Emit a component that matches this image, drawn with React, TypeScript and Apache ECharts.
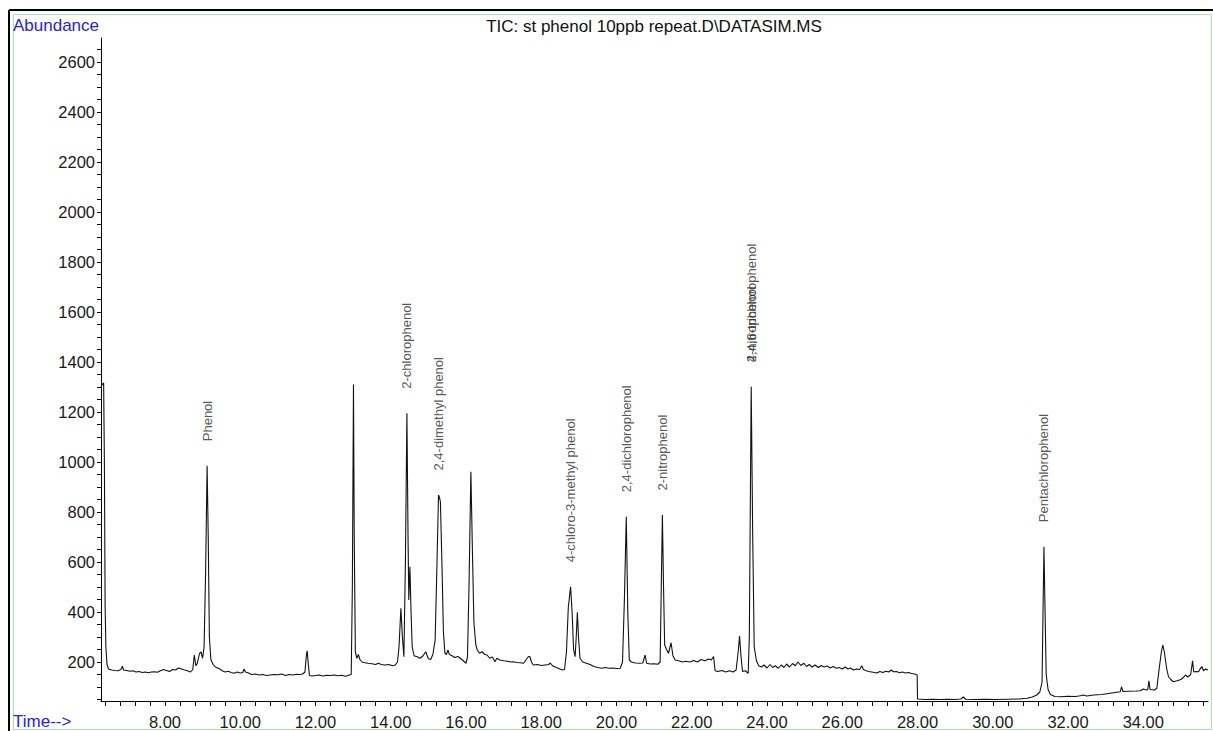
import React, { useEffect, useRef } from "react";
import * as echarts from "echarts";

const FONT = "'Liberation Sans', Arial, sans-serif";

// Retention time (min)
const retentionTimes = [
  6.3, 6.33, 6.37, 6.39, 6.41, 6.43, 6.46, 6.5, 6.58, 6.67, 6.75, 6.83, 6.87, 6.9, 6.98, 7.07, 7.15, 7.23, 7.31, 7.4, 7.48,
  7.56, 7.64, 7.72, 7.8, 7.88, 7.96, 8.04, 8.12, 8.2, 8.28, 8.36, 8.44, 8.52, 8.6, 8.68, 8.74, 8.78, 8.82, 8.86, 8.92,
  8.96, 9.0, 9.04, 9.08, 9.12, 9.15, 9.18, 9.22, 9.28, 9.34, 9.4, 9.46, 9.52, 9.6, 9.68, 9.76, 9.84, 9.92, 10.0, 10.07,
  10.1, 10.14, 10.22, 10.3, 10.4, 10.5, 10.6, 10.7, 10.8, 10.9, 11.0, 11.1, 11.2, 11.3, 11.4, 11.5, 11.58, 11.66, 11.72, 11.76,
  11.78, 11.81, 11.84, 11.92, 12.0, 12.1, 12.2, 12.3, 12.4, 12.5, 12.6, 12.7, 12.8, 12.9, 12.95, 12.98, 13.01, 13.03, 13.06, 13.1,
  13.14, 13.18, 13.24, 13.32, 13.4, 13.5, 13.6, 13.67, 13.75, 13.85, 13.95, 14.05, 14.12, 14.18, 14.22, 14.27, 14.31, 14.35, 14.39, 14.43,
  14.46, 14.48, 14.51, 14.54, 14.57, 14.62, 14.7, 14.78, 14.86, 14.93, 14.97, 15.0, 15.06, 15.12, 15.18, 15.23, 15.27, 15.3, 15.32, 15.36,
  15.4, 15.44, 15.48, 15.52, 15.56, 15.63, 15.7, 15.78, 15.85, 15.93, 16.0, 16.04, 16.08, 16.13, 16.17, 16.21, 16.26, 16.3, 16.36, 16.43,
  16.5, 16.56, 16.63, 16.7, 16.77, 16.82, 16.9, 17.0, 17.1, 17.2, 17.26, 17.35, 17.45, 17.53, 17.6, 17.66, 17.7, 17.74, 17.79, 17.9,
  18.0, 18.1, 18.2, 18.24, 18.3, 18.4, 18.5, 18.56, 18.62, 18.67, 18.72, 18.78, 18.82, 18.86, 18.9, 18.93, 18.96, 18.99, 19.03, 19.1,
  19.2, 19.3, 19.4, 19.5, 19.6, 19.7, 19.8, 19.9, 20.0, 20.1, 20.16, 20.21, 20.26, 20.3, 20.34, 20.4, 20.5, 20.6, 20.7, 20.76,
  20.8, 20.9, 21.0, 21.1, 21.16, 21.19, 21.22, 21.25, 21.28, 21.33, 21.38, 21.45, 21.5, 21.56, 21.65, 21.75, 21.85, 21.95, 22.05, 22.15,
  22.25, 22.35, 22.45, 22.52, 22.58, 22.62, 22.7, 22.8, 22.9, 23.0, 23.1, 23.18, 23.24, 23.27, 23.31, 23.35, 23.42, 23.5, 23.53, 23.58,
  23.62, 23.66, 23.72, 23.78, 23.85, 23.92, 24.0, 24.08, 24.15, 24.22, 24.3, 24.38, 24.45, 24.52, 24.6, 24.68, 24.75, 24.82, 24.9, 24.98,
  25.05, 25.12, 25.2, 25.28, 25.36, 25.44, 25.52, 25.6, 25.68, 25.76, 25.84, 25.92, 26.0, 26.08, 26.15, 26.22, 26.3, 26.38, 26.46, 26.52,
  26.56, 26.62, 26.7, 26.78, 26.86, 26.92, 27.0, 27.08, 27.16, 27.24, 27.3, 27.36, 27.44, 27.52, 27.6, 27.68, 27.76, 27.84, 27.92, 27.99,
  28.0, 28.2, 28.4, 28.6, 28.8, 29.0, 29.15, 29.22, 29.28, 29.5, 29.8, 30.1, 30.4, 30.7, 30.91, 31.05, 31.17, 31.25, 31.31, 31.34,
  31.36, 31.39, 31.42, 31.47, 31.53, 31.65, 31.79, 32.0, 32.2, 32.33, 32.4, 32.5, 32.68, 32.9, 33.12, 33.3, 33.39, 33.42, 33.46, 33.6,
  33.8, 33.92, 34.0, 34.08, 34.12, 34.15, 34.18, 34.3, 34.36, 34.42, 34.48, 34.52, 34.56, 34.62, 34.67, 34.73, 34.8, 34.9, 35.0, 35.08,
  35.12, 35.18, 35.26, 35.31, 35.34, 35.4, 35.47, 35.52, 35.56, 35.6, 35.66, 35.72,
];

// Total ion current abundance
const abundance = [
  1300, 1310, 1316, 1000, 420, 260, 190, 172, 168, 166, 165, 170, 183, 168, 166, 163, 165, 160, 162, 158, 160,
  157, 160, 161, 159, 165, 170, 166, 162, 170, 168, 176, 172, 168, 165, 160, 170, 228, 185, 195, 235,
  240, 215, 260, 560, 985, 700, 300, 210, 190, 180, 176, 172, 165, 160, 163, 158, 155, 160, 156, 158,
  172, 160, 156, 150, 152, 148, 150, 146, 148, 150, 149, 152, 146, 150, 148, 151, 150, 152, 160, 230,
  245, 190, 146, 144, 146, 148, 144, 147, 146, 148, 145, 147, 143, 148, 150, 500, 1310, 700, 240, 215,
  230, 210, 200, 197, 195, 193, 190, 195, 190, 188, 190, 185, 188, 200, 260, 415, 300, 221, 600, 1195,
  700, 448, 581, 400, 261, 225, 221, 215, 225, 241, 225, 213, 210, 230, 288, 600, 868, 855, 841, 600,
  320, 236, 230, 248, 230, 225, 218, 222, 215, 205, 195, 220, 500, 961, 650, 360, 270, 248, 235, 241,
  230, 228, 215, 220, 201, 215, 208, 205, 203, 200, 201, 198, 197, 195, 210, 222, 221, 200, 188, 190,
  186, 188, 190, 196, 185, 178, 172, 168, 170, 240, 420, 501, 400, 250, 221, 300, 399, 300, 215, 200,
  195, 190, 182, 178, 175, 178, 175, 176, 174, 175, 200, 450, 781, 400, 208, 200, 196, 195, 196, 228,
  195, 192, 193, 191, 200, 500, 788, 500, 268, 250, 235, 277, 225, 208, 205, 200, 203, 200, 206, 200,
  210, 205, 212, 208, 222, 165, 162, 166, 160, 165, 160, 168, 250, 304, 220, 162, 165, 155, 300, 1301,
  700, 260, 205, 185, 180, 188, 176, 190, 178, 185, 175, 188, 178, 192, 180, 194, 185, 200, 186, 195,
  182, 190, 180, 188, 178, 186, 180, 184, 176, 182, 175, 178, 172, 180, 172, 176, 168, 172, 170, 185,
  170, 166, 162, 160, 158, 156, 162, 158, 163, 160, 168, 161, 162, 157, 160, 156, 158, 154, 152, 148,
  52, 50, 51, 50, 51, 50, 52, 60, 51, 50, 51, 50, 51, 52, 55, 60, 68, 80, 120, 450,
  661, 400, 150, 90, 70, 62, 61, 63, 62, 65, 68, 64, 68, 70, 75, 79, 81, 101, 82, 83,
  84, 85, 92, 88, 90, 125, 90, 88, 95, 170, 240, 268, 240, 175, 141, 130, 121, 125, 130, 140,
  148, 140, 150, 205, 160, 162, 161, 175, 181, 165, 172, 168,
];

// Peak annotations
const peakNames = [
  "Phenol",
  "2-chlorophenol",
  "2,4-dimethyl phenol",
  "4-chloro-3-methyl phenol",
  "2,4-dichlorophenol",
  "2-nitrophenol",
  "2,4,6-trichlorophenol",
  "4-nitrophenol",
  "Pentachlorophenol",
];
const peakTimes = [9.12, 14.43, 15.27, 18.78, 20.26, 21.22, 23.58, 23.58, 31.36];
const peakApex = [985, 1195, 868, 501, 781, 788, 1301, 1301, 661];

// Axis ticks
const xLabelValues = [8, 10, 12, 14, 16, 18, 20, 22, 24, 26, 28, 30, 32, 34];
const yLabelValues = [200, 400, 600, 800, 1000, 1200, 1400, 1600, 1800, 2000, 2200, 2400, 2600];
const xMin = 6.3;
const xMax = 35.72;
const yMin = 44;
const yMax = 2696;

const xTickValues: number[] = [];
for (let i = 64; i <= 356; i += 4) xTickValues.push(i / 10);
const yTickValues: number[] = [];
for (let v = 50; v <= 2650; v += 50) yTickValues.push(v);

export default function App() {
  const ref = useRef<HTMLDivElement>(null);
  useEffect(() => {
    if (!ref.current) return;
    const chart = echarts.init(ref.current, undefined, { renderer: "svg" });
    const trace = retentionTimes.map((t, i) => [t, abundance[i]]);
    const labels = peakNames.map((n, i) => [peakTimes[i], peakApex[i], n]);
    chart.setOption({
      animation: false,
      backgroundColor: "#ffffff",
      grid: { left: 101, right: 5, top: 38, bottom: 30, containLabel: false },
      xAxis: {
        type: "value",
        min: xMin,
        max: xMax,
        axisLine: { show: true, onZero: false, lineStyle: { color: "#000", width: 1 } },
        axisTick: { show: true, customValues: xTickValues, length: 5, lineStyle: { color: "#000" } },
        axisLabel: {
          show: true,
          customValues: xLabelValues,
          formatter: (v: number) => v.toFixed(2),
          color: "#1a1a1a",
          fontSize: 16.5,
          fontFamily: FONT,
          margin: 12,
        },
        splitLine: { show: false },
      },
      yAxis: {
        type: "value",
        min: yMin,
        max: yMax,
        axisLine: { show: true, onZero: false, lineStyle: { color: "#000", width: 1 } },
        axisTick: { show: true, customValues: yTickValues, length: 4, lineStyle: { color: "#000" } },
        axisLabel: {
          show: true,
          customValues: yLabelValues,
          formatter: (v: number) => String(Math.round(v)),
          color: "#1a1a1a",
          fontSize: 16.5,
          fontFamily: FONT,
          margin: 6,
        },
        splitLine: { show: false },
      },
      series: [
        {
          type: "line",
          data: trace,
          showSymbol: false,
          symbol: "none",
          lineStyle: { color: "#111", width: 1.1 },
          silent: true,
        },
        {
          type: "scatter",
          data: labels,
          symbolSize: 1,
          itemStyle: { color: "rgba(0,0,0,0)" },
          silent: true,
          label: {
            show: true,
            formatter: (p: any) => p.value[2],
            position: "top",
            distance: 24,
            rotate: 90,
            align: "left",
            verticalAlign: "middle",
            color: "#2a2a2a",
            fontSize: 13,
            fontFamily: FONT,
          },
        },
      ],
      graphic: [
        { type: "line", shape: { x1: 9, y1: 10, x2: 1213, y2: 10 }, style: { stroke: "#000", lineWidth: 2 }, silent: true },
        { type: "line", shape: { x1: 9, y1: 10, x2: 9, y2: 731 }, style: { stroke: "#000", lineWidth: 2 }, silent: true },
        {
          type: "rect",
          shape: { x: 13.5, y: 14.5, width: 1198, height: 715 },
          style: { fill: "none", stroke: "#a8e8a8", lineWidth: 1 },
          silent: true,
        },
        {
          type: "text",
          x: 13,
          y: 25,
          style: { text: "Abundance", fill: "#2222ee", font: `17px ${FONT}`, align: "left", verticalAlign: "middle" },
          silent: true,
        },
        {
          type: "text",
          x: 654,
          y: 26,
          style: {
            text: "TIC: st phenol 10ppb repeat.D\\DATASIM.MS",
            fill: "#111",
            font: `17px ${FONT}`,
            align: "center",
            verticalAlign: "middle",
          },
          silent: true,
        },
        {
          type: "text",
          x: 13,
          y: 721,
          style: { text: "Time-->", fill: "#2222ee", font: `17px ${FONT}`, align: "left", verticalAlign: "middle" },
          silent: true,
        },
      ],
    });
    return () => chart.dispose();
  }, []);
  return (
    <div
      ref={ref}
      style={{ position: "fixed", left: 0, top: 0, width: 1213, height: 731, background: "#fff" }}
    />
  );
}
